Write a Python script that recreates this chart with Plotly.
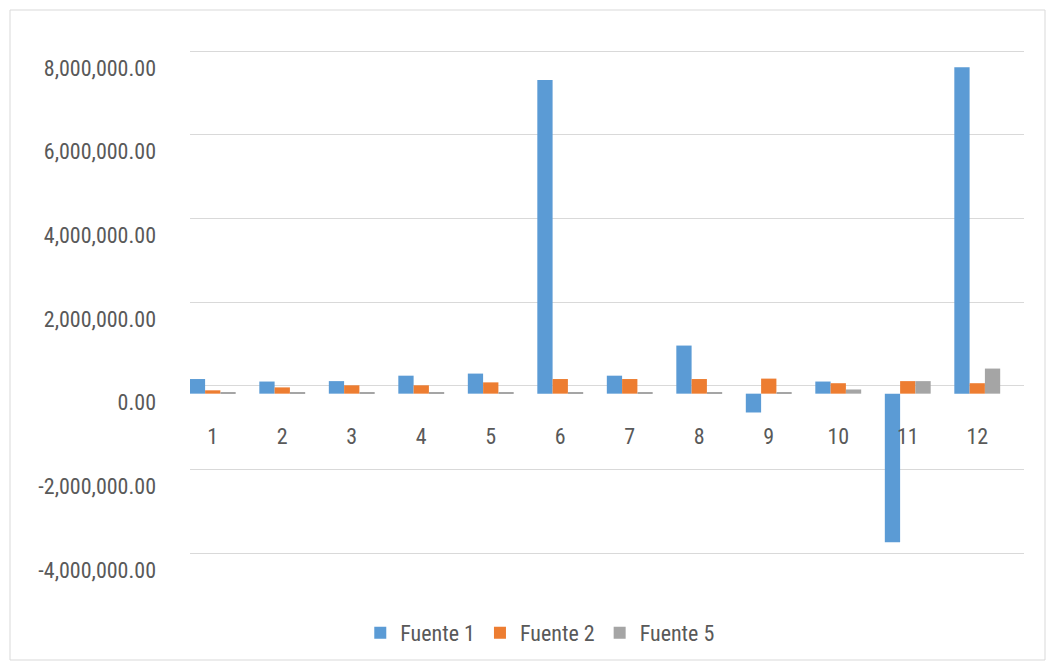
import plotly.graph_objects as go

categories = ["1", "2", "3", "4", "5", "6", "7", "8", "9", "10", "11", "12"]
fuente1 = [350000, 290000, 300000, 430000, 480000, 7500000, 430000, 1150000, -450000, 290000, -3550000, 7800000]
fuente2 = [80000, 150000, 200000, 200000, 270000, 350000, 350000, 350000, 360000, 250000, 300000, 250000]
fuente5 = [30000, 30000, 30000, 30000, 30000, 30000, 30000, 30000, 40000, 100000, 300000, 600000]

series_names = ["Fuente 1", "Fuente 2", "Fuente 5"]
colors = ["#5B9BD5", "#ED7D31", "#A5A5A5"]

y_min, y_max = -4000000, 8000000
y_ticks = [-4000000, -2000000, 0, 2000000, 4000000, 6000000, 8000000]
y_tick_labels = ["-4,000,000.00", "-2,000,000.00", "0.00", "2,000,000.00",
                 "4,000,000.00", "6,000,000.00", "8,000,000.00"]

font_family = "Liberation Sans Narrow, Roboto Condensed, Liberation Sans, Arial"
text_color = "#595959"

# page body has an 8px margin; figure is sized to fit the window
OFF = 8
W, H = 1055 - OFF, 666 - OFF
top_grid_px, bottom_grid_px = 51 - OFF, 553 - OFF      # back-wall gridlines (figure px)
ppu = (bottom_grid_px - top_grid_px) / (y_max - y_min)  # px per value unit
pad = 3 / ppu                                            # keep edge gridlines inside
ml, mr = 190 - OFF, 31
mt = top_grid_px - 3
mb = H - (bottom_grid_px + 3)
pw = W - ml - mr
ph = H - mt - mb

# 3D-like front plane: bars sit slightly lower / left than the back-wall gridlines
front_dy = 8 / ppu                         # 8 px lower
front_dx = 12 / (pw / len(categories))     # 12 px left, in category units

fig = go.Figure()
# empty trace so that the back-wall (gridline) axis is drawn
fig.add_trace(go.Scatter(x=[], y=[], yaxis="y", showlegend=False, hoverinfo="skip"))
for name, vals, col in zip(series_names, [fuente1, fuente2, fuente5], colors):
    fig.add_trace(go.Bar(x=categories, y=vals, name=name, yaxis="y2",
                         marker=dict(color=col, line=dict(width=0))))

y_range = [y_min - pad, y_max + pad]
fig.update_layout(
    width=W, height=H,
    margin=dict(l=ml, r=mr, t=mt, b=mb),
    paper_bgcolor="white", plot_bgcolor="white",
    barmode="group", bargap=0.34, bargroupgap=0.0,
    font=dict(family=font_family, size=22, color=text_color),
    showlegend=True,
    legend=dict(orientation="h", x=0.42, xanchor="center",
                y=-(612 - OFF - (H - mb)) / ph, yanchor="top",
                font=dict(size=22, color=text_color), itemwidth=30,
                traceorder="normal", tracegroupgap=0),
    xaxis=dict(type="category", categoryarray=categories, categoryorder="array",
               range=[-0.5 + front_dx, len(categories) - 0.5 + front_dx],
               anchor="free", position=(0 - y_range[0]) / (y_range[1] - y_range[0]),
               showgrid=False, showline=False, zeroline=False,
               ticks="outside", ticklen=31, tickcolor="rgba(0,0,0,0)",
               tickfont=dict(size=22, color=text_color)),
    yaxis=dict(range=y_range, tickvals=y_ticks, ticktext=y_tick_labels,
               showgrid=True, gridcolor="#D9D9D9", gridwidth=1,
               zeroline=True, zerolinecolor="#D9D9D9", zerolinewidth=1,
               showline=False, ticks="", ticklabelstandoff=33, ticklabelshift=17,
               tickfont=dict(size=22, color=text_color)),
    yaxis2=dict(range=[y_range[0] + front_dy, y_range[1] + front_dy], overlaying="y",
                showgrid=False, zeroline=False, showline=False,
                showticklabels=False, ticks=""),
)

# chart border
def px_to_paper_x(px):
    return (px - ml) / pw
def px_to_paper_y(py):
    return (H - mb - py) / ph
fig.add_shape(type="rect", xref="paper", yref="paper",
              x0=px_to_paper_x(2), x1=px_to_paper_x(1037),
              y0=px_to_paper_y(652), y1=px_to_paper_y(2),
              line=dict(color="#D9D9D9", width=1), fillcolor="rgba(0,0,0,0)", layer="below")

fig.write_html("out.html")
